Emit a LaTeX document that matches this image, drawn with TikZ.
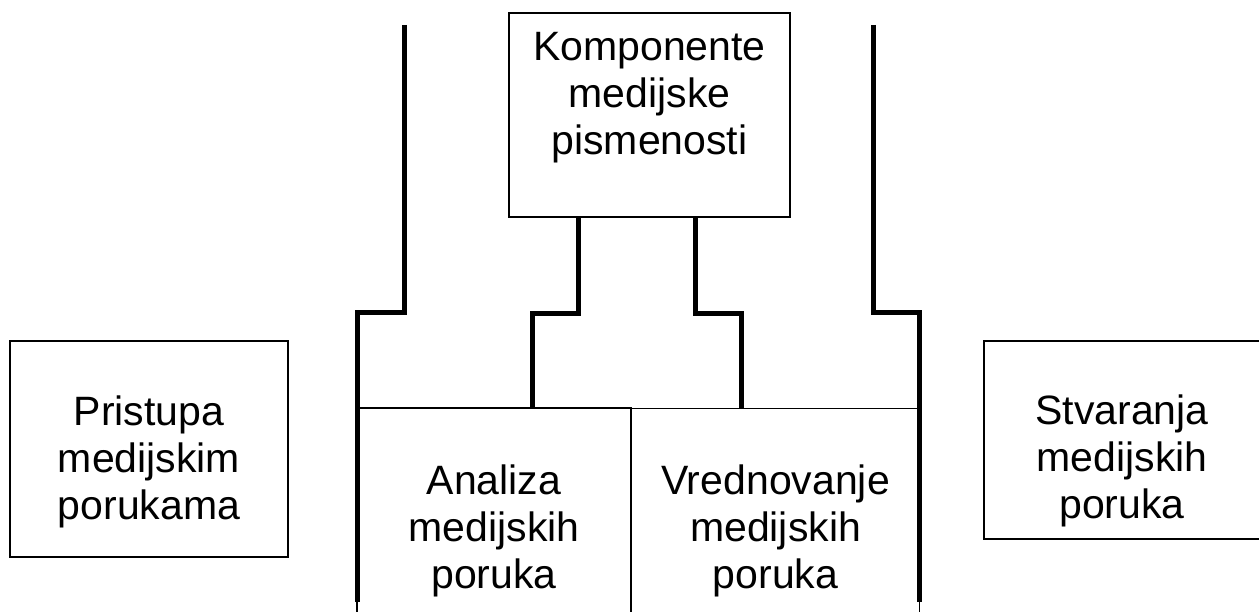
\documentclass[tikz,border=0pt]{standalone}
\usepackage{fontspec}
\setmainfont{Liberation Sans}
\begin{document}
\begin{tikzpicture}[x=1pt,y=-1pt,
  box/.style={draw=black,line width=1.5pt,inner sep=0pt,fill=none},
  lbl/.style={align=center,inner sep=0pt,anchor=north,font=\fontsize{41}{47}\selectfont},
  conn/.style={line width=5pt,line join=miter,line cap=butt}]
\useasboundingbox (0,0) rectangle (1259,612);
\clip (0,0) rectangle (1259,612);
% boxes
\node[box,minimum width=281pt,minimum height=204pt] (top) at (649.5,115) {};
\node[box,minimum width=274pt,minimum height=242pt] (ana) at (494,529) {};
\node[box,minimum width=288.5pt,minimum height=242pt] (vre) at (775.25,529.5) {};
\node[box,minimum width=278pt,minimum height=216pt] (pri) at (149,449) {};
\node[box,minimum width=306pt,minimum height=198pt] (stv) at (1137,440) {};
% texts
\node[lbl] (ttop) at (649.5,32) {Komponente\\medijske\\pismenosti};
\node[lbl] (tana) at (494,465) {Analiza\\medijskih\\poruka};
\node[lbl] (tvre) at (775.5,465) {Vrednovanje\\medijskih\\poruka};
\node[lbl] (tpri) at (149,396) {Pristupa\\medijskim\\porukama};
\node[lbl] (tstv) at (1122,395) {Stvaranja\\medijskih\\poruka};
% free ends of outer connectors
\coordinate (lt) at (404,25);
\coordinate (lb) at (357,602);
\coordinate (rt) at (873,25);
\coordinate (rb) at (919.5,602);
% connectors
\draw[conn] (lt) -- ++(0,288) -| (lb);
\draw[conn] (rt) -- ++(0,288) -| (rb);
\draw[conn] ([xshift=70pt]top.south west) -- ++(0,96) -| ([xshift=176pt]ana.north west);
\draw[conn] ([xshift=-95pt]top.south east) -- ++(0,96) -| ([xshift=111pt]vre.north west);
\end{tikzpicture}
\end{document}
